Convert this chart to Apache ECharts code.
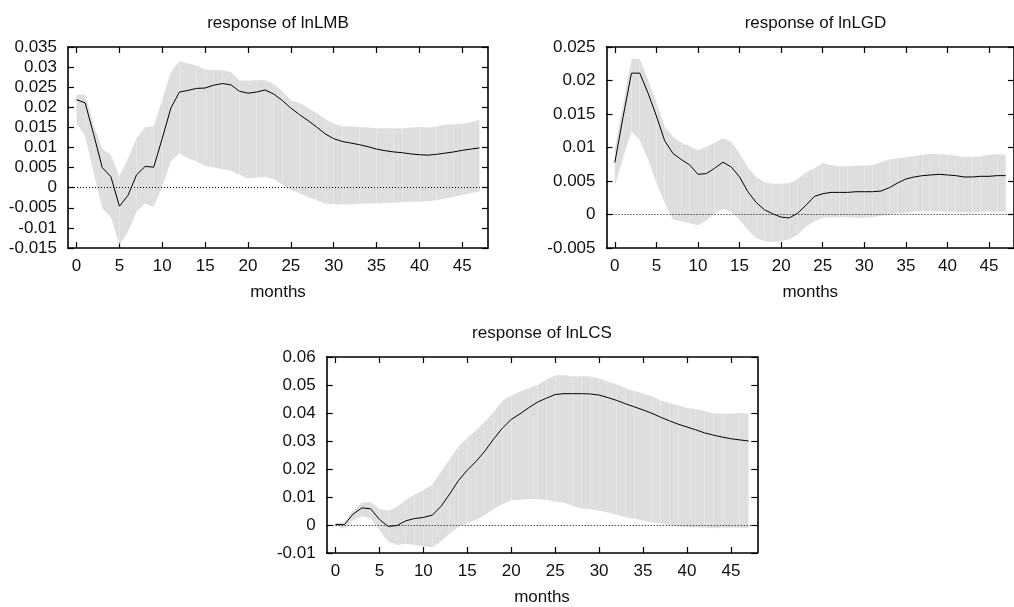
<!DOCTYPE html>
<html>
<head>
<meta charset="utf-8">
<script src="https://cdn.jsdelivr.net/npm/echarts@6/dist/echarts.min.js"></script>
<style>
html,body{margin:0;padding:0;background:#fff;}
#chart{width:1014px;height:607px;}
</style>
</head>
<body>
<div id="chart"></div>
<script>
// ---- data ----
const months = [0,1,2,3,4,5,6,7,8,9,10,11,12,13,14,15,16,17,18,19,20,21,22,23,24,25,26,27,28,29,30,31,32,33,34,35,36,37,38,39,40,41,42,43,44,45,46,47];
const xTickValues = [0,5,10,15,20,25,30,35,40,45];

const titles = ['response of lnLMB', 'response of lnLGD', 'response of lnLCS'];
const xName = 'months';

// response of lnLMB
const lmbIrf = [0.0219,0.0211,0.0132,0.0050,0.00275,-0.0046,-0.0019,0.0032,0.0053,0.0051,0.0123,0.0198,0.0238,0.0242,0.0247,0.0248,0.0255,0.0259,0.0256,0.0240,0.0235,0.0238,0.0243,0.0233,0.0217,0.0198,0.0182,0.0167,0.0151,0.0134,0.0122,0.0115,0.0111,0.0107,0.0102,0.0096,0.0092,0.0089,0.0087,0.0084,0.0082,0.0081,0.0083,0.0086,0.0089,0.0093,0.0096,0.0099];
const lmbHigh = [0.0232,0.0232,0.0155,0.0096,0.0082,0.0028,0.0073,0.0123,0.0151,0.0152,0.0219,0.0288,0.0315,0.0309,0.0304,0.0294,0.0293,0.0292,0.0288,0.0267,0.0266,0.0268,0.0267,0.0258,0.0240,0.0217,0.0211,0.0198,0.0186,0.0171,0.0159,0.0153,0.0152,0.0151,0.0150,0.0148,0.0148,0.0148,0.0148,0.0150,0.0151,0.0150,0.0152,0.0157,0.0158,0.0159,0.0163,0.0169];
const lmbLow = [0.0161,0.0128,0.0036,-0.0052,-0.0073,-0.0141,-0.0110,-0.0060,-0.0039,-0.0048,0.0003,0.0065,0.0086,0.0073,0.0065,0.0054,0.0050,0.0046,0.0042,0.0032,0.0023,0.0025,0.0027,0.0021,0.0008,-0.0006,-0.0014,-0.0023,-0.0031,-0.0039,-0.0041,-0.0042,-0.0041,-0.0040,-0.0039,-0.0039,-0.0038,-0.0037,-0.0036,-0.0035,-0.0035,-0.0033,-0.0031,-0.0027,-0.0023,-0.0018,-0.0013,-0.0010];

// response of lnLGD
const lgdIrf = [0.00775,0.0146,0.0211,0.0211,0.0181,0.0147,0.0110,0.0091,0.0082,0.0074,0.0060,0.0061,0.0069,0.0078,0.0071,0.0056,0.0034,0.0018,0.0007,0.0001,-0.0004,-0.0005,0.0002,0.0014,0.0027,0.0031,0.0033,0.0033,0.0033,0.0034,0.0034,0.0034,0.0035,0.0040,0.0047,0.0053,0.0056,0.0058,0.0059,0.0060,0.0059,0.0058,0.0056,0.0056,0.0057,0.0057,0.0058,0.0058];
const lgdHigh = [0.0098,0.0165,0.0232,0.0232,0.0201,0.0168,0.0131,0.0116,0.0107,0.0102,0.0096,0.0101,0.0107,0.0114,0.0109,0.0091,0.0070,0.0056,0.0048,0.0046,0.0046,0.0047,0.0053,0.0063,0.0069,0.0077,0.0074,0.0072,0.0072,0.0073,0.0073,0.0074,0.0078,0.0082,0.0084,0.0086,0.0087,0.0089,0.0091,0.0090,0.0089,0.0088,0.0086,0.0086,0.0087,0.0089,0.0090,0.0089];
const lgdLow = [0.0042,0.0085,0.0124,0.0111,0.0082,0.0047,0.0017,-0.0008,-0.0010,-0.0013,-0.0016,-0.0009,0.0001,0.0009,0.0004,-0.0008,-0.0023,-0.0035,-0.0040,-0.0041,-0.0040,-0.0037,-0.0030,-0.0018,-0.0010,-0.0005,-0.0004,-0.0004,-0.0004,-0.0005,-0.0005,-0.0004,-0.0002,0.0000,0.0002,0.0003,0.0004,0.0005,0.0005,0.0004,0.0004,0.0004,0.0003,0.0003,0.0004,0.0004,0.0004,0.0004];

// response of lnLCS
const lcsIrf = [0.0002,0.0001,0.0039,0.0061,0.0058,0.0020,-0.0005,-0.0002,0.0015,0.0023,0.0027,0.0035,0.0066,0.0111,0.0159,0.0196,0.0227,0.0264,0.0307,0.0346,0.0377,0.0397,0.0419,0.0439,0.0453,0.0466,0.0469,0.0469,0.0469,0.0468,0.0464,0.0455,0.0445,0.0433,0.0422,0.0411,0.0399,0.0385,0.0372,0.0360,0.0350,0.0340,0.0329,0.0321,0.0314,0.0308,0.0304,0.0300];
const lcsHigh = [0.0007,0.0010,0.0051,0.0080,0.0082,0.0057,0.0051,0.0065,0.0089,0.0109,0.0124,0.0144,0.0190,0.0236,0.0280,0.0312,0.0338,0.0370,0.0404,0.0445,0.0462,0.0476,0.0488,0.0500,0.0520,0.0535,0.0536,0.0530,0.0532,0.0530,0.0523,0.0512,0.0503,0.0488,0.0479,0.0470,0.0460,0.0445,0.0436,0.0428,0.0418,0.0414,0.0407,0.0399,0.0397,0.0397,0.0401,0.0397];
const lcsLow = [-0.0003,-0.0013,0.0016,0.0031,0.0024,-0.0019,-0.0059,-0.0071,-0.0067,-0.0071,-0.0076,-0.0080,-0.0059,-0.0030,-0.0007,0.0005,0.0020,0.0036,0.0057,0.0074,0.0089,0.0090,0.0093,0.0092,0.0089,0.0083,0.0080,0.0068,0.0059,0.0056,0.0051,0.0045,0.0037,0.0028,0.0022,0.0016,0.0010,0.0005,-0.0001,-0.0006,-0.0008,-0.0009,-0.0010,-0.0012,-0.0009,-0.0010,-0.0010,-0.0012];

// y axis ranges
const yMins = [-0.015, -0.005, -0.01];
const yMaxs = [0.035, 0.025, 0.06];
const yIntervals = [0.005, 0.005, 0.01];
const xMin = -1, xMax = 48;

// ---- layout ----
const FONT = "'Liberation Sans', Arial, Helvetica, sans-serif";
const FS = 17;
const grids = [
  {left: 68, top: 47, width: 420, height: 201},
  {left: 606.5, top: 47, width: 418, height: 201},
  {left: 326.7, top: 357, width: 430.6, height: 201}
];
const titleY = [15, 15, 325];

const panels = [
  {irf: lmbIrf, low: lmbLow, high: lmbHigh},
  {irf: lgdIrf, low: lgdLow, high: lgdHigh},
  {irf: lcsIrf, low: lcsLow, high: lcsHigh}
];

const fmt = v => String(+(+v).toFixed(4));

function renderBand(params, api) {
  const k = params.dataIndexInside;
  if (k >= params.dataInsideLength - 1) return null;
  const x0 = api.value(0, k), lo0 = api.value(1, k), hi0 = api.value(2, k);
  const x1 = api.value(0, k + 1), lo1 = api.value(1, k + 1), hi1 = api.value(2, k + 1);
  const pts = [api.coord([x0, lo0]), api.coord([x0, hi0]), api.coord([x1, hi1]), api.coord([x1, lo1])];
  return {type: 'polygon', shape: {points: pts}, style: {fill: '#dedede'}};
}

const mkTick = (custom) => {
  const t = {show: true, inside: true, length: 6, lineStyle: {color: '#000', width: 1.2}};
  if (custom) t.customValues = xTickValues.slice();
  return t;
};
const mkLine = () => ({show: true, onZero: false, lineStyle: {color: '#000', width: 1.6}});

const option = {
  animation: false,
  backgroundColor: '#fff',
  textStyle: {fontFamily: FONT},
  title: [], grid: [], xAxis: [], yAxis: [], series: []
};

panels.forEach((p, i) => {
  const g = grids[i];
  option.title.push({
    text: titles[i], left: g.left + g.width / 2, top: titleY[i], textAlign: 'center', padding: 0,
    textStyle: {fontFamily: FONT, fontSize: FS, fontWeight: 'normal', color: '#111'}
  });
  option.grid.push({
    left: g.left, top: g.top, width: g.width, height: g.height, show: false, containLabel: false
  });
  option.xAxis.push({
    gridIndex: i, type: 'value', min: xMin, max: xMax, position: 'bottom',
    name: xName, nameLocation: 'middle', nameGap: 36,
    nameTextStyle: {fontFamily: FONT, fontSize: FS, color: '#111'},
    axisLine: mkLine(), splitLine: {show: false},
    axisTick: mkTick(true),
    axisLabel: {show: true, margin: 10, customValues: xTickValues.slice(), fontFamily: FONT, fontSize: FS, color: '#111'}
  });
  option.xAxis.push({
    gridIndex: i, type: 'value', min: xMin, max: xMax, position: 'top',
    axisLine: mkLine(), splitLine: {show: false},
    axisTick: mkTick(true),
    axisLabel: {show: false}
  });
  option.yAxis.push({
    gridIndex: i, type: 'value', min: yMins[i], max: yMaxs[i], interval: yIntervals[i], position: 'left',
    axisLine: mkLine(), splitLine: {show: false},
    axisTick: mkTick(false),
    axisLabel: {show: true, margin: 11, formatter: fmt, fontFamily: FONT, fontSize: FS, color: '#111'}
  });
  option.yAxis.push({
    gridIndex: i, type: 'value', min: yMins[i], max: yMaxs[i], interval: yIntervals[i], position: 'right',
    axisLine: mkLine(), splitLine: {show: false},
    axisTick: mkTick(false),
    axisLabel: {show: false}
  });

  const xi = i * 2, yi = i * 2;
  const bandData = months.map((m, k) => [m, p.low[k], p.high[k]]);
  const irfData = months.map((m, k) => [m, p.irf[k]]);

  option.series.push({
    type: 'custom', xAxisIndex: xi, yAxisIndex: yi, data: bandData,
    encode: {x: 0, y: [1, 2]}, renderItem: renderBand, silent: true, z: 1
  });
  option.series.push({
    type: 'line', xAxisIndex: xi, yAxisIndex: yi, data: irfData,
    symbol: 'none', silent: true,
    lineStyle: {color: '#000', width: 1}, z: 3,
    markLine: {
      silent: true, symbol: 'none', label: {show: false},
      lineStyle: {color: '#000', type: [1, 2], width: 1},
      data: [{yAxis: 0}]
    }
  });
});

const chart = echarts.init(document.getElementById('chart'), null, {renderer: 'canvas'});
chart.setOption(option);
</script>
</body>
</html>
